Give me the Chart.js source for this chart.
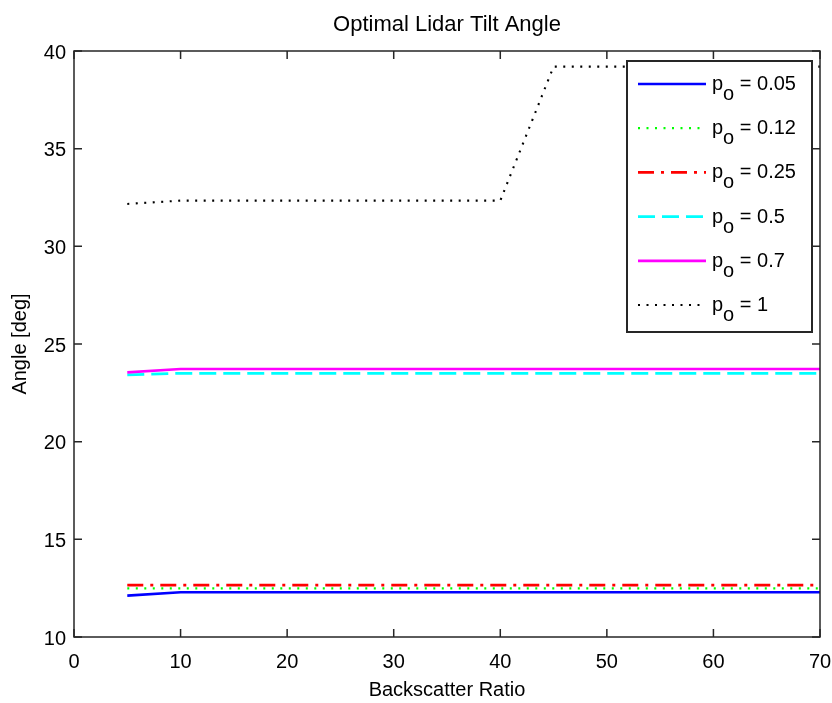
<!DOCTYPE html>
<html><head><meta charset="utf-8">
<script src="https://cdn.jsdelivr.net/npm/chart.js@4.4.1/dist/chart.umd.min.js"></script>
<style>html,body{margin:0;padding:0;background:#fff;overflow:hidden}</style>
</head><body>
<canvas id="c" width="832" height="703"></canvas>
<script>
// ---- data ----
const chartTitle = 'Optimal Lidar Tilt Angle';
const xTitle = 'Backscatter Ratio';
const yTitle = 'Angle [deg]';
const backscatterRatio = [5, 10, 15, 20, 25, 30, 35, 40, 45, 50, 55, 60, 65, 70];
const poValues = ['0.05', '0.12', '0.25', '0.5', '0.7', '1'];
const anglePo005 = [12.12, 12.29, 12.29, 12.29, 12.29, 12.29, 12.29, 12.29, 12.29, 12.29, 12.29, 12.29, 12.29, 12.29];
const anglePo012 = [12.49, 12.49, 12.49, 12.49, 12.49, 12.49, 12.49, 12.49, 12.49, 12.49, 12.49, 12.49, 12.49, 12.49];
const anglePo025 = [12.66, 12.66, 12.66, 12.66, 12.66, 12.66, 12.66, 12.66, 12.66, 12.66, 12.66, 12.66, 12.66, 12.66];
const anglePo05  = [23.42, 23.50, 23.50, 23.50, 23.50, 23.50, 23.50, 23.50, 23.50, 23.50, 23.50, 23.50, 23.50, 23.50];
const anglePo07  = [23.55, 23.72, 23.72, 23.72, 23.72, 23.72, 23.72, 23.72, 23.72, 23.72, 23.72, 23.72, 23.72, 23.72];
const anglePo1   = [32.17, 32.34, 32.34, 32.34, 32.34, 32.34, 32.34, 32.34, 39.2, 39.2, 39.2, 39.2, 39.2, 39.2];
const xTicks = [0, 10, 20, 30, 40, 50, 60, 70];
const yTicks = [10, 15, 20, 25, 30, 35, 40];

// ---- styles ----
const seriesValues = [anglePo005, anglePo012, anglePo025, anglePo05, anglePo07, anglePo1];
const seriesColors = ['#0000ff', '#00ff00', '#ff0000', '#00ffff', '#ff00ff', '#000000'];
const seriesDash = [[], [2, 6.5], [16, 7, 3, 7], [17, 7], [], [2, 6.5]];
const seriesWidth = [2.7, 2.2, 2.7, 2.7, 2.7, 2.1];
const FONT = "'Liberation Sans', Arial, Helvetica, sans-serif";
const frameColor = '#262626';

Chart.defaults.font.family = FONT;
Chart.defaults.color = '#000';

const datasets = seriesValues.map((vals, i) => ({
  label: 'po = ' + poValues[i],
  data: backscatterRatio.map((x, j) => ({x: x, y: vals[j]})),
  borderColor: seriesColors[i],
  backgroundColor: seriesColors[i],
  borderWidth: seriesWidth[i],
  borderDash: seriesDash[i],
  borderCapStyle: 'butt',
  pointRadius: 0,
  tension: 0,
  fill: false,
  order: seriesValues.length - 1 - i
}));

const framePlugin = {
  id: 'frame',
  afterDraw(chart) {
    const ctx = chart.ctx, a = chart.chartArea;
    const xs = chart.scales.x, ys = chart.scales.y;
    ctx.save();
    // title centred over the axes
    ctx.fillStyle = '#000';
    ctx.font = '22px ' + FONT;
    ctx.textAlign = 'center';
    ctx.textBaseline = 'alphabetic';
    ctx.fillText(chartTitle, (a.left + a.right) / 2, 31);

    ctx.strokeStyle = frameColor;
    ctx.lineWidth = 1.5;
    ctx.setLineDash([]);
    ctx.beginPath();
    const tl = 8;
    xTicks.forEach(v => {
      const px = xs.getPixelForValue(v);
      ctx.moveTo(px, a.bottom); ctx.lineTo(px, a.bottom - tl);
      ctx.moveTo(px, a.top); ctx.lineTo(px, a.top + tl);
    });
    yTicks.forEach(v => {
      const py = ys.getPixelForValue(v);
      ctx.moveTo(a.left, py); ctx.lineTo(a.left + tl, py);
      ctx.moveTo(a.right, py); ctx.lineTo(a.right - tl, py);
    });
    ctx.stroke();
    ctx.strokeRect(a.left, a.top, a.right - a.left, a.bottom - a.top);

    // legend
    const L = a.right - 193, T = a.top + 10, W = 185, H = 271;
    ctx.fillStyle = '#fff';
    ctx.fillRect(L, T, W, H);
    ctx.lineWidth = 2;
    ctx.strokeStyle = frameColor;
    ctx.strokeRect(L, T, W, H);
    chart.data.datasets.forEach((ds, i) => {
      const cy = T + 23 + i * 44.2;
      ctx.save();
      ctx.strokeStyle = ds.borderColor;
      ctx.lineWidth = ds.borderWidth;
      ctx.lineCap = 'butt';
      ctx.setLineDash(ds.borderDash);
      ctx.beginPath();
      ctx.moveTo(L + 11, cy); ctx.lineTo(L + 79, cy);
      ctx.stroke();
      ctx.restore();
      ctx.fillStyle = '#000';
      ctx.font = '20px ' + FONT;
      ctx.textAlign = 'left';
      ctx.textBaseline = 'alphabetic';
      let tx = L + 85;
      const base = cy + 6;
      ctx.fillText('p', tx, base);
      tx += ctx.measureText('p').width;
      ctx.fillText('o', tx, base + 10);
      tx += ctx.measureText('o').width;
      ctx.fillText(' = ' + poValues[i], tx, base);
    });
    ctx.restore();
  }
};

new Chart(document.getElementById('c'), {
  type: 'line',
  data: { datasets: datasets },
  options: {
    responsive: false,
    animation: false,
    devicePixelRatio: 1,
    layout: { padding: { top: 51, right: 12, bottom: 0, left: 0 } },
    plugins: {
      legend: { display: false },
      tooltip: { enabled: false },
      title: { display: false }
    },
    scales: {
      x: {
        type: 'linear',
        min: 0, max: 70,
        afterBuildTicks: s => { s.ticks = xTicks.map(v => ({value: v})); },
        afterFit: s => { s.height = 66; s.paddingLeft = 0; s.paddingRight = 0; },
        grid: { display: false, drawTicks: false },
        border: { display: false },
        ticks: { color: '#000', font: { size: 20 }, padding: 13, maxRotation: 0, autoSkip: false },
        title: { display: true, text: xTitle, color: '#000', font: { size: 20 }, padding: { top: 0, bottom: 1 } }
      },
      y: {
        type: 'linear',
        min: 10, max: 40,
        afterBuildTicks: s => { s.ticks = yTicks.map(v => ({value: v})); },
        afterFit: s => { s.width = 74; s.paddingTop = 0; s.paddingBottom = 0; },
        grid: { display: false, drawTicks: false },
        border: { display: false },
        ticks: { color: '#000', font: { size: 20 }, padding: 8, labelOffset: 2, autoSkip: false },
        title: { display: true, text: yTitle, color: '#000', font: { size: 20 }, padding: { top: 8, bottom: 0 } }
      }
    }
  },
  plugins: [framePlugin]
});
</script>
</body></html>
